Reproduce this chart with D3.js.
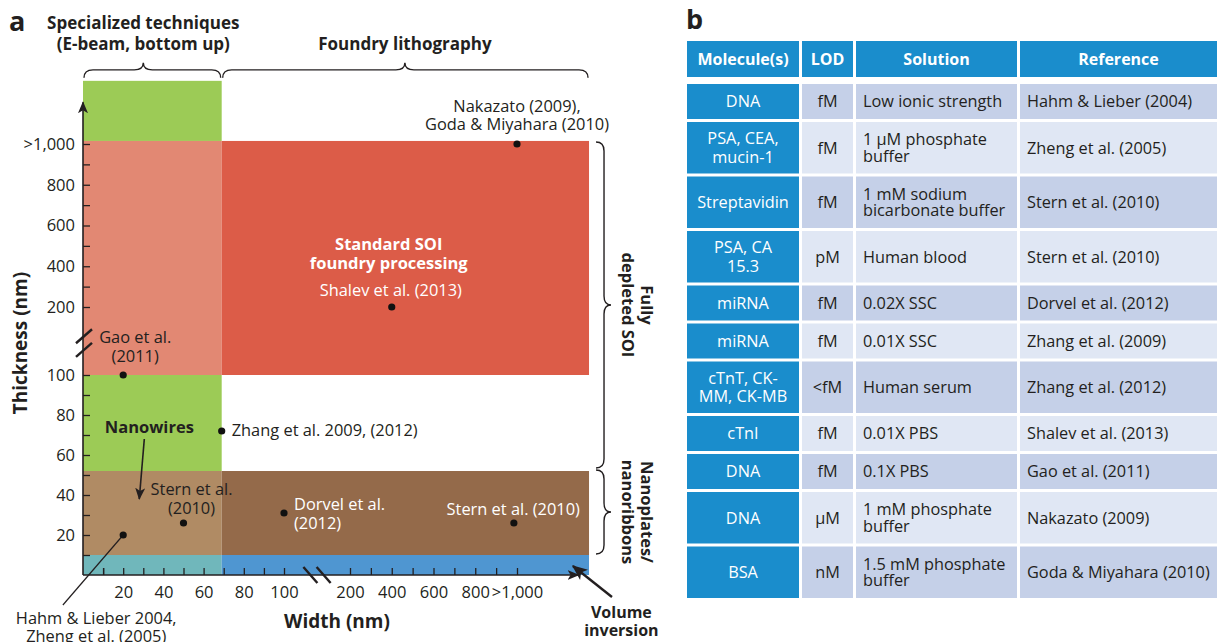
<!DOCTYPE html>
<html>
<head>
<meta charset="utf-8">
<script src="https://cdn.jsdelivr.net/npm/d3@7"></script>
<style>
    body { margin: 0; background: #fff; }
    svg text { font-family: "Open Sans", sans-serif; fill: #231f20; }
</style>
</head>
<body>
<svg id="fig" width="1217" height="642"></svg>
<script>

// ---- DATA -----

// axis ticks (nm), both axes are broken between 100 and 200
var tickValues = [20, 40, 60, 80, 100, 200, 400, 600, 800, 1000],
    tickLabels = ["20", "40", "60", "80", "100", "200", "400", "600", "800", ">1,000"],
    minorTicks = [10, 30, 50, 70, 90, 300, 500, 700, 900];

// regions of the width x thickness plane
var regionNames = ["specTop", "specSoi", "soi", "nanowire", "specPlate", "plate", "specInv", "inversion"],
    regionWidth = [[0, 69], [0, 69], [69, 1345], [0, 69], [0, 69], [69, 1345], [0, 69], [69, 1345]],
    regionThick = [[1015, 1310], [100, 1015], [100, 1015], [52, 100], [10, 52], [10, 52], [0, 10], [0, 10]];

// reported devices (width, thickness in nm)
var pointNames = ["nakazato", "shalev", "gao", "zhang", "sternA", "hahm", "dorvel", "sternB"],
    pointWidth = [1000, 400, 20, 69, 50, 20, 100, 985],
    pointThick = [1000, 200, 100, 72, 26, 20, 31, 26],
    pointLabels = [
        ["Nakazato (2009),", "Goda & Miyahara (2010)"],
        ["Shalev et al. (2013)"],
        ["Gao et al.", "(2011)"],
        ["Zhang et al. 2009, (2012)"],
        ["Stern et al.", "(2010)"],
        ["Hahm & Lieber 2004,", "Zheng et al. (2005)"],
        ["Dorvel et al.", "(2012)"],
        ["Stern et al. (2010)"]
    ];

// braces
var topBraceLabels = [["Specialized techniques", "(E-beam, bottom up)"], ["Foundry lithography"]],
    topBraceWidth = [[0, 69], [69, 1345]],
    topBraceTip = [30, 463],
    sideBraceLabels = [["Fully", "depleted SOI"], ["Nanoplates/", "nanoribbons"]],
    sideBraceThick = [[1015, 53], [53, 10]];

// table b
var tableHeader = ["Molecule(s)", "LOD", "Solution", "Reference"],
    molecules = ["DNA", "PSA, CEA,\nmucin-1", "Streptavidin", "PSA, CA\n15.3", "miRNA", "miRNA",
                 "cTnT, CK-\nMM, CK-MB", "cTnI", "DNA", "DNA", "BSA"],
    lods = ["fM", "fM", "fM", "pM", "fM", "fM", "<fM", "fM", "fM", "µM", "nM"],
    solutions = ["Low ionic strength", "1 µM phosphate\nbuffer", "1 mM sodium\nbicarbonate buffer",
                 "Human blood", "0.02X SSC", "0.01X SSC", "Human serum", "0.01X PBS", "0.1X PBS",
                 "1 mM phosphate\nbuffer", "1.5 mM phosphate\nbuffer"],
    references = ["Hahm & Lieber (2004)", "Zheng et al. (2005)", "Stern et al. (2010)", "Stern et al. (2010)",
                  "Dorvel et al. (2012)", "Zhang et al. (2009)", "Zhang et al. (2012)", "Shalev et al. (2013)",
                  "Gao et al. (2011)", "Nakazato (2009)", "Goda & Miyahara (2010)"];


// ---- STYLE / LAYOUT -----

var ink = "#231f20",
    regionColor = {
        specTop: "#9ccb56", specSoi: "#e28873", soi: "#dc5c48", nanowire: "#9ccb56",
        specPlate: "#b08b64", plate: "#946a4a", specInv: "#70b7bb", inversion: "#4f96d1"
    },
    // label offsets from the dot, in pixels
    labelLayout = {
        nakazato: {dx: 0, dy: -32, lh: 17.5, anchor: "middle", fill: ink},
        shalev:   {dx: -1, dy: -11, lh: 18, anchor: "middle", fill: "#fff"},
        gao:      {dx: 12, dy: -32, lh: 19, anchor: "middle", fill: ink},
        zhang:    {dx: 10, dy: 5, lh: 18, anchor: "start", fill: ink},
        sternA:   {dx: 8, dy: -28, lh: 19, anchor: "middle", fill: ink},
        hahm:     {dx: -27, dy: 89, lh: 18, anchor: "middle", fill: ink},
        dorvel:   {dx: 10, dy: -3, lh: 19, anchor: "start", fill: "#fff"},
        sternB:   {dx: 66, dy: -8, lh: 18, anchor: "end", fill: "#fff"}
    },
    labelSize = 16.4,
    tickSize = 16.5;

var svg = d3.select("#fig");

// piecewise scales for the broken axes
var x = d3.scaleLinear()
        .domain([0, 100, 200, 1000])
        .range([83, 284, 350, 517]),
    y = d3.scaleLinear()
        .domain([0, 100, 200, 1000])
        .range([575, 375, 307, 144]);

var defs = svg.append("defs");
defs.append("marker")
    .attr("id", "head")
    .attr("viewBox", "0 0 12 10")
    .attr("refX", 11).attr("refY", 5)
    .attr("markerWidth", 12).attr("markerHeight", 10)
    .attr("markerUnits", "userSpaceOnUse")
    .attr("orient", "auto")
    .append("path")
        .attr("d", "M0,0 L12,5 L0,10 L3,5 Z")
        .attr("fill", ink);
defs.append("marker")
    .attr("id", "headBig")
    .attr("viewBox", "0 0 12 10")
    .attr("refX", 11).attr("refY", 5)
    .attr("markerWidth", 16).attr("markerHeight", 13)
    .attr("markerUnits", "userSpaceOnUse")
    .attr("orient", "auto")
    .append("path")
        .attr("d", "M0,0 L12,5 L0,10 L3,5 Z")
        .attr("fill", ink);


// ---- PANEL A: REGIONS -----

var regions = regionNames.map(function(n, i){
    return {name: n, w: regionWidth[i], t: regionThick[i]};
});

svg.append("g").selectAll("rect")
    .data(regions)
    .enter()
    .append("rect")
        .attr("x", function(d){return x(d.w[0])})
        .attr("y", function(d){return y(d.t[1])})
        .attr("width", function(d){return x(d.w[1]) - x(d.w[0])})
        .attr("height", function(d){return y(d.t[0]) - y(d.t[1])})
        .attr("fill", function(d){return regionColor[d.name]});


// ---- PANEL A: AXES -----

var yAxis = d3.axisLeft(y)
        .tickValues(tickValues)
        .tickFormat(function(d, i){return tickLabels[i]})
        .tickSize(-7)
        .tickPadding(8),
    yMinor = d3.axisLeft(y).tickValues(minorTicks).tickFormat("").tickSize(-7),
    xAxis = d3.axisBottom(x)
        .tickValues(tickValues)
        .tickFormat(function(d, i){return tickLabels[i]})
        .tickSize(-7)
        .tickPadding(11),
    xMinor = d3.axisBottom(x).tickValues(minorTicks.concat([10])).tickFormat("").tickSize(-7);

var styleAxis = function(g){
    g.select(".domain").remove();
    g.selectAll("line").attr("stroke", ink).attr("stroke-width", 1.3);
    g.selectAll("text").attr("font-size", tickSize).attr("font-family", "Open Sans").attr("fill", ink);
};

[yAxis, yMinor].forEach(function(ax){
    svg.append("g")
        .attr("transform", "translate(" + x(0) + ",0)")
        .call(ax)
        .call(styleAxis);
});

[xAxis, xMinor].forEach(function(ax){
    svg.append("g")
        .attr("transform", "translate(0," + y(0) + ")")
        .call(ax)
        .call(styleAxis);
});

// axis lines with arrow heads
svg.append("line")
    .attr("x1", x(0)).attr("y1", y(0))
    .attr("x2", x(0)).attr("y2", y(1205))
    .attr("stroke", ink).attr("stroke-width", 1.6)
    .attr("marker-end", "url(#head)");
svg.append("line")
    .attr("x1", x(0)).attr("y1", y(0))
    .attr("x2", x(1295)).attr("y2", y(0))
    .attr("stroke", ink).attr("stroke-width", 1.6)
    .attr("marker-end", "url(#head)");

// break marks
[137, 157].forEach(function(v){
    svg.append("line")
        .attr("x1", x(0) - 7).attr("y1", y(v) + 7)
        .attr("x2", x(0) + 9).attr("y2", y(v) - 7)
        .attr("stroke", ink).attr("stroke-width", 2.4);
});
[140, 160].forEach(function(v){
    svg.append("line")
        .attr("x1", x(v) - 7).attr("y1", y(0) - 8)
        .attr("x2", x(v) + 7).attr("y2", y(0) + 8)
        .attr("stroke", ink).attr("stroke-width", 2.4);
});

// axis titles
svg.append("text")
    .attr("transform", "translate(27," + 343 + ") rotate(-90)")
    .attr("text-anchor", "middle")
    .attr("font-size", 19).attr("font-weight", "bold")
    .text("Thickness (nm)");
svg.append("text")
    .attr("x", 337).attr("y", 628)
    .attr("text-anchor", "middle")
    .attr("font-size", 19).attr("font-weight", "bold")
    .text("Width (nm)");


// ---- PANEL A: BRACES -----

var bracePath = function(a, b, tip, base, vertical){
    var h1 = 8, h2 = 7, r = 9,
        pt = function(u, off){return vertical ? [base + off, u] : [u, base - off]},
        p = d3.path(),
        c;
    c = pt(a, 0); p.moveTo(c[0], c[1]);
    c = [pt(a, h1), pt(a + r, h1)]; p.quadraticCurveTo(c[0][0], c[0][1], c[1][0], c[1][1]);
    c = pt(tip - r, h1); p.lineTo(c[0], c[1]);
    c = [pt(tip, h1), pt(tip, h1 + h2)]; p.quadraticCurveTo(c[0][0], c[0][1], c[1][0], c[1][1]);
    c = [pt(tip, h1), pt(tip + r, h1)]; p.quadraticCurveTo(c[0][0], c[0][1], c[1][0], c[1][1]);
    c = pt(b - r, h1); p.lineTo(c[0], c[1]);
    c = [pt(b, h1), pt(b, 0)]; p.quadraticCurveTo(c[0][0], c[0][1], c[1][0], c[1][1]);
    return p.toString();
};

var topBase = y(1310) - 3;
topBraceWidth.forEach(function(w, i){
    var tx = x(topBraceTip[i]);
    svg.append("path")
        .attr("d", bracePath(x(w[0]) + 1, x(w[1]) - 1, tx, topBase, false))
        .attr("fill", "none").attr("stroke", ink).attr("stroke-width", 1.4);
    svg.append("text")
        .attr("text-anchor", "middle")
        .attr("font-size", 17).attr("font-weight", "bold")
        .selectAll("tspan")
        .data(topBraceLabels[i])
        .enter()
        .append("tspan")
            .attr("x", tx)
            .attr("y", function(d, j, all){return topBase - 28 - (all.length - 1 - j) * 21})
            .text(function(d){return d});
});

var sideBase = x(1345) + 7;
sideBraceThick.forEach(function(t, i){
    var a = y(t[0]), b = y(t[1]), m = (a + b) / 2;
    svg.append("path")
        .attr("d", bracePath(a + 1, b - 1, m, sideBase, true))
        .attr("fill", "none").attr("stroke", ink).attr("stroke-width", 1.4);
    svg.append("text")
        .attr("transform", "translate(" + (sideBase + 41) + "," + m + ") rotate(90)")
        .attr("text-anchor", "middle")
        .attr("font-size", 16.5).attr("font-weight", "bold")
        .selectAll("tspan")
        .data(sideBraceLabels[i])
        .enter()
        .append("tspan")
            .attr("x", 0)
            .attr("y", function(d, j){return -4 + j * 19})
            .text(function(d){return d});
});


// ---- PANEL A: REGION NOTES AND ARROWS -----

svg.append("text")
    .attr("text-anchor", "middle")
    .attr("font-size", 16.5).attr("font-weight", "bold")
    .style("fill", "#fff")
    .selectAll("tspan")
    .data(["Standard SOI", "foundry processing"])
    .enter()
    .append("tspan")
        .attr("x", x(400) - 3)
        .attr("y", function(d, j){return y(200) - 57 + j * 19})
        .text(function(d){return d});

svg.append("text")
    .attr("x", x(33)).attr("y", y(71))
    .attr("text-anchor", "middle")
    .attr("font-size", 16.5).attr("font-weight", "bold")
    .text("Nanowires");
svg.append("line")
    .attr("x1", x(30.5)).attr("y1", y(68))
    .attr("x2", x(28)).attr("y2", y(38))
    .attr("stroke", ink).attr("stroke-width", 1.6)
    .attr("marker-end", "url(#head)");

svg.append("text")
    .attr("text-anchor", "middle")
    .attr("font-size", 16).attr("font-weight", "bold")
    .selectAll("tspan")
    .data(["Volume", "inversion"])
    .enter()
    .append("tspan")
        .attr("x", x(1500))
        .attr("y", function(d, j){return y(0) + 43 + j * 18})
        .text(function(d){return d});
svg.append("line")
    .attr("x1", x(1455)).attr("y1", y(-11))
    .attr("x2", x(1268)).attr("y2", y(4.5))
    .attr("stroke", ink).attr("stroke-width", 2.4)
    .attr("marker-end", "url(#headBig)");


// ---- PANEL A: POINTS -----

var points = pointNames.map(function(n, i){
    return {name: n, w: pointWidth[i], t: pointThick[i], lines: pointLabels[i]};
});

// leader for Hahm & Lieber
svg.append("line")
    .attr("x1", x(20)).attr("y1", y(20))
    .attr("x2", x(-10)).attr("y2", y(-15))
    .attr("stroke", ink).attr("stroke-width", 1.2);

svg.append("g").selectAll("circle")
    .data(points)
    .enter()
    .append("circle")
        .attr("cx", function(d){return x(d.w)})
        .attr("cy", function(d){return y(d.t)})
        .attr("r", 3.6)
        .attr("fill", "#111");

svg.append("g").selectAll("text")
    .data(points)
    .enter()
    .append("text")
        .attr("text-anchor", function(d){return labelLayout[d.name].anchor})
        .attr("font-size", labelSize)
        .style("fill", function(d){return labelLayout[d.name].fill})
        .each(function(d){
            var l = labelLayout[d.name];
            d3.select(this).selectAll("tspan")
                .data(d.lines)
                .enter()
                .append("tspan")
                    .attr("x", x(d.w) + l.dx)
                    .attr("y", function(s, j){return y(d.t) + l.dy + j * l.lh})
                    .text(function(s){return s});
        });

// panel letters
svg.append("text").attr("x", 9).attr("y", 31)
    .attr("font-size", 27).attr("font-weight", "bold").text("a");
svg.append("text").attr("x", 686).attr("y", 29)
    .attr("font-size", 27).attr("font-weight", "bold").text("b");


// ---- PANEL B: TABLE -----

var colX = [687, 802, 856, 1020],
    colW = [112, 51, 161, 197],
    headTop = 41, headH = 36, bodyTop = 84, gap = 3,
    blue = "#1a8dcc", rowDark = "#c5d0e8", rowLight = "#e0e7f4";

var rows = molecules.map(function(m, i){
    return [m, lods[i], solutions[i], references[i]];
});

// header
svg.append("g").selectAll("rect")
    .data(tableHeader)
    .enter()
    .append("rect")
        .attr("x", function(d, i){return colX[i]})
        .attr("y", headTop)
        .attr("width", function(d, i){return colW[i]})
        .attr("height", headH)
        .attr("fill", blue);
svg.append("g").selectAll("text")
    .data(tableHeader)
    .enter()
    .append("text")
        .attr("x", function(d, i){return colX[i] + colW[i] / 2})
        .attr("y", headTop + headH / 2 + 6)
        .attr("text-anchor", "middle")
        .attr("font-size", 16).attr("font-weight", "bold")
        .style("fill", "#fff")
        .text(function(d){return d});

// body
var rowY = bodyTop;
rows.forEach(function(r, i){
    var two = r.some(function(c){return c.indexOf("\n") >= 0}),
        h = two ? 51.5 : 35,
        mid = rowY + h / 2,
        g = svg.append("g");

    g.selectAll("rect")
        .data(r)
        .enter()
        .append("rect")
            .attr("x", function(d, j){return colX[j]})
            .attr("y", rowY)
            .attr("width", function(d, j){return colW[j]})
            .attr("height", h)
            .attr("fill", function(d, j){return j == 0 ? blue : (i % 2 == 0 ? rowDark : rowLight)});

    g.selectAll("text")
        .data(r)
        .enter()
        .append("text")
            .attr("text-anchor", function(d, j){return j < 2 ? "middle" : "start"})
            .attr("font-size", 16.3)
            .style("fill", function(d, j){return j == 0 ? "#fff" : ink})
            .each(function(d, j){
                var lines = d.split("\n"),
                    lh = j == 0 ? 18.3 : 16.8,
                    tx = j < 2 ? colX[j] + colW[j] / 2 : colX[j] + 7;
                d3.select(this).selectAll("tspan")
                    .data(lines)
                    .enter()
                    .append("tspan")
                        .attr("x", tx)
                        .attr("y", function(s, k){return mid + 5.8 + (k - (lines.length - 1) / 2) * lh})
                        .text(function(s){return s});
            });

    rowY += h + gap;
});

</script>
</body>
</html>
